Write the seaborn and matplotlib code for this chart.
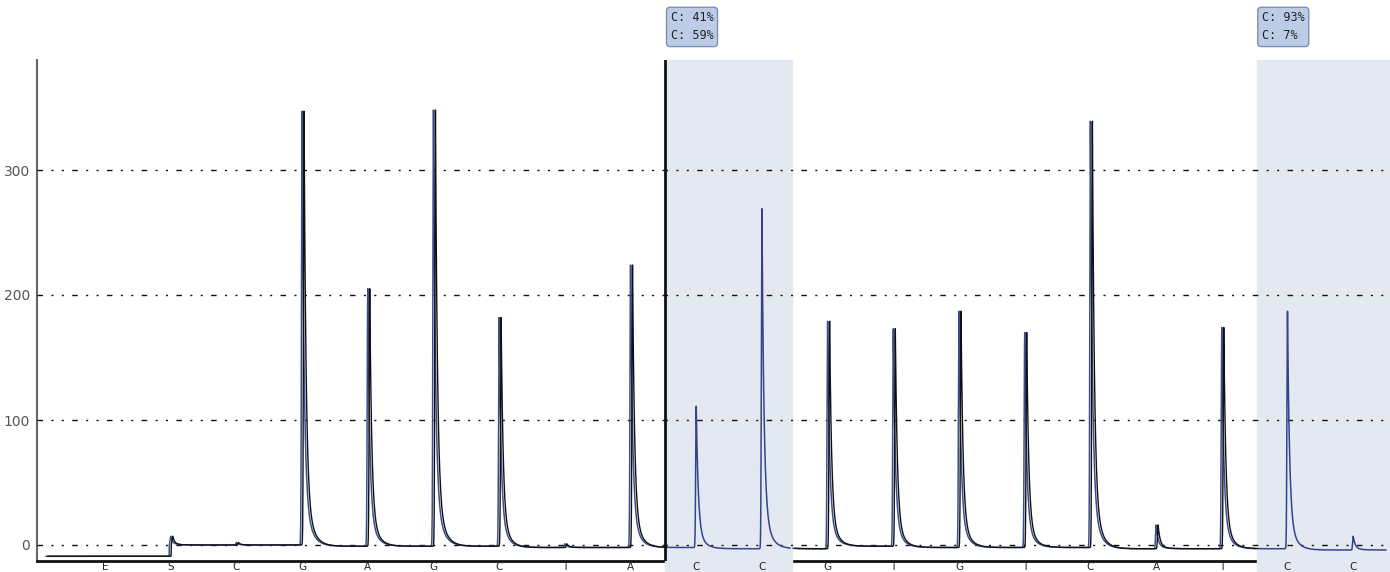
import matplotlib
matplotlib.use('Agg')
import matplotlib.pyplot as plt
import matplotlib.transforms as mtransforms
import seaborn as sns
import numpy as np
import pandas as pd

# urutan dispensasi (label sumbu x) dan tinggi puncak yang dibaca dari gambar
dispensation = ['E', 'S', 'C', 'G', 'A', 'G', 'C', 'T', 'A', 'C',
                'C', 'G', 'T', 'G', 'T', 'C', 'A', 'T', 'C', 'C']
peak_height = [0, 7, 2, 348, 206, 349, 184, 3, 226, 114,
               272, 180, 175, 189, 172, 342, 19, 177, 191, 11]
# garis dasar per dispensasi
baseline = [-9, 0, 0, -1, -1, -1, -2, -2, -2, -3,
            -3, -1, -2, -2, -2, -3, -3, -3, -4, -4]

# rentang segmen jejak (indeks dispensasi) dan apakah diarsir
segments = [(-0.9, 8.52, False), (8.56, 10.43, True),
            (10.47, 17.52, False), (17.56, 19.5, True)]
# kotak hasil varian
var_regions = [(8.53, 10.45), (17.53, 19.6)]
var_text = ['C: 41%\nC: 59%', 'C: 93%\nC: 7%']

y_ticks = [0, 100, 200, 300]


def peak_shape(d, h):
    # naik tajam, turun eksponensial
    rise = np.exp(-(d / 0.012) ** 2)
    fall = 0.85 * np.exp(-d / 0.03) + 0.15 * np.exp(-d / 0.1)
    return h * np.where(d < 0, rise, fall)


def trace(xs):
    idx = np.clip(np.floor(xs + 0.02).astype(int), 0, len(baseline) - 1)
    y = np.array(baseline, dtype=float)[idx]
    for i, h in enumerate(peak_height):
        y = y + peak_shape(xs - i, h)
    return y


rows = []
for k, (a, b, shaded) in enumerate(segments):
    xs = np.linspace(a, b, 2000)
    # pastikan puncak ikut tersampel
    tops = [i for i in range(len(peak_height)) if a < i < b]
    xs = np.sort(np.concatenate([xs, np.array(tops, dtype=float)]))
    ys = trace(xs)
    for xv, yv in zip(xs, ys):
        rows.append((xv, yv, f'seg{k}', shaded))
df = pd.DataFrame(rows, columns=['x', 'y', 'seg', 'shaded'])

sns.set_style('white')
plt.rcParams['font.family'] = ['DejaVu Sans']

fig = plt.figure(figsize=(13.9, 5.72), dpi=100)
ax = fig.add_axes([37 / 1390, 11 / 572, 1 - 37 / 1390, 501 / 572])

# daerah arsir
for a, b in var_regions:
    ax.axvspan(a, b, ymin=-0.03, ymax=1.0, color='#e4e9f1', zorder=3, clip_on=False)
ax.axvline(var_regions[0][0], color='#111111', lw=2, zorder=6)

# garis grid titik-titik
for t in y_ticks:
    ax.axhline(t, color='#111111', lw=1.0, dashes=(4, 6, 1.5, 6, 1.5, 6), zorder=4)

palette = {f'seg{k}': ('#33458a' if s[2] else '#3b4f8c') for k, s in enumerate(segments)}
sns.lineplot(data=df, x='x', y='y', hue='seg', palette=palette, estimator=None,
             sort=False, lw=1.1, legend=False, ax=ax, zorder=5)
# jejak hitam sedikit bergeser untuk segmen putih
df_white = df[~df['shaded']].copy()
df_white['x'] = df_white['x'] + 0.03
sns.lineplot(data=df_white, x='x', y='y', hue='seg', palette={k: '#111111' for k in df_white['seg'].unique()},
             estimator=None, sort=False, lw=1.0, legend=False, ax=ax, zorder=5)

ax.set_xlim(-1.035, 19.56)
ax.set_ylim(-12.8, 388)
ax.set_xticks(range(len(dispensation)))
ax.set_xticklabels(dispensation, fontsize=7.5, color='#222222')
ax.set_yticks(y_ticks)
ax.set_yticklabels([str(t) for t in y_ticks], fontsize=10, color='#555555')
ax.tick_params(axis='x', direction='in', length=9, width=1, pad=0.5, color='#111111')
ax.tick_params(axis='y', direction='out', length=4, width=1, color='#555555', pad=1)
ax.xaxis.set_zorder(8)  # label tetap terlihat di atas arsiran
ax.set_xlabel('')
ax.set_ylabel('')

for side in ['top', 'right']:
    ax.spines[side].set_visible(False)
ax.spines['left'].set_color('#666666')
ax.spines['left'].set_linewidth(1.5)
ax.spines['bottom'].set_color('#111111')
ax.spines['bottom'].set_linewidth(2)

trans = mtransforms.blended_transform_factory(ax.transData, ax.transAxes)
for (a, b), txt in zip(var_regions, var_text):
    ax.text(a + 0.08, 1.066, txt, transform=trans, ha='left', va='center',
            family='DejaVu Sans Mono', fontsize=8.5, color='#222222', linespacing=1.5,
            bbox=dict(boxstyle='round,pad=0.35,rounding_size=0.3', fc='#bccbe6', ec='#7d8fb2', lw=1),
            zorder=7, clip_on=False)

fig.savefig('out.png', dpi=100)
